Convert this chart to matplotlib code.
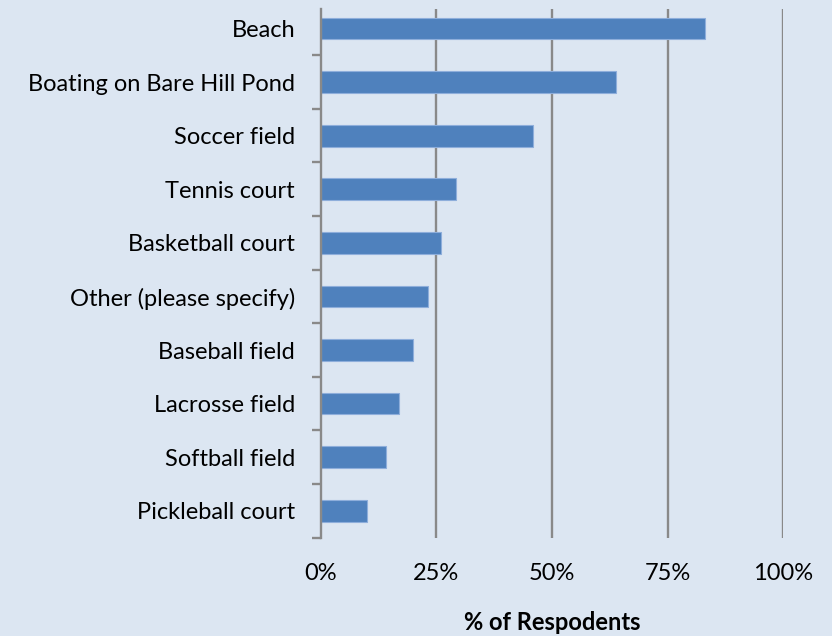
import numpy as np
import matplotlib.pyplot as plt
from matplotlib.ticker import FixedLocator

plt.rcParams['font.family'] = ['Lato', 'DejaVu Sans']

activities = [
    "Beach",
    "Boating on Bare Hill Pond",
    "Soccer field",
    "Tennis court",
    "Basketball court",
    "Other (please specify)",
    "Baseball field",
    "Lacrosse field",
    "Softball field",
    "Pickleball court",
]
pct = [83.2, 63.9, 46.0, 29.3, 26.0, 23.3, 20.0, 17.0, 14.1, 9.9]
xticks = [0, 25, 50, 75, 100]
xticklabels = ["0%", "25%", "50%", "75%", "100%"]

bg = "#dce6f2"
bar_color = "#4f81bd"
grid_color = "#898989"
fs = 17

fig = plt.figure(figsize=(8.32, 6.36), dpi=100, facecolor=bg)
ax = fig.add_axes([0.3855, 0.1547, 0.5558, 0.8426])
ax.set_facecolor(bg)

n = len(activities)
# first category at the top
y = np.arange(n)[::-1]
ax.barh(y, pct, height=0.405, color=bar_color, edgecolor="#8eaedb", linewidth=0.8, zorder=3)

ax.set_xlim(0, 100)
ax.set_ylim(-0.5, n - 0.5)
line_top = n - 0.5 - 0.136

ax.set_xticks(xticks)
ax.set_xticklabels(xticklabels)
ax.tick_params(axis="x", length=0, pad=18, labelsize=fs, colors="black")
ax.vlines(xticks[1:], -0.5, line_top, color=grid_color, linewidth=1.7, zorder=1)

ax.set_yticks(y)
ax.set_yticklabels(activities)
ax.tick_params(axis="y", which="major", length=0, pad=18.5, labelsize=fs)
ax.yaxis.set_minor_locator(FixedLocator(np.arange(-0.5, n - 1, 1.0)))
ax.tick_params(axis="y", which="minor", length=6.5, width=1.7, color=grid_color)

for side in ["top", "right", "bottom"]:
    ax.spines[side].set_visible(False)
ax.spines["left"].set_color(grid_color)
ax.spines["left"].set_linewidth(1.7)
ax.spines["left"].set_bounds(-0.5, line_top)
ax.spines["left"].set_zorder(4)

ax.set_xlabel("% of Respodents", fontsize=fs, fontweight="bold", labelpad=20)

fig.savefig("out.png", dpi=100, facecolor=bg)
